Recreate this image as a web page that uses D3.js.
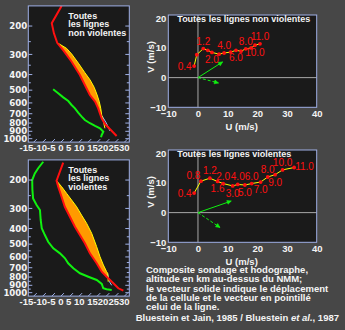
<!DOCTYPE html>
<html><head><meta charset="utf-8">
<script src="https://cdn.jsdelivr.net/npm/d3@7"></script>
<style>
html,body{margin:0;padding:0;background:#474747;}
svg{display:block;font-family:"Liberation Sans",Arial,sans-serif;}
text{white-space:pre;}
</style></head><body>
<svg id="fig" width="345" height="330"></svg>
<script>
// ---------- sounding profiles (pressure hPa, temperature °C) ----------
const pressureTicks = [200, 300, 400, 500, 600, 700, 800, 900, 1000];
const tempTicks = [-15, -10, -5, 0, 5, 10, 15, 20, 25, 30];

// non-severe squall lines
const nvTempP = [150, 192, 222, 254, 282, 302, 333, 403, 480, 536, 589, 648, 696, 747, 811, 874, 962];
const nvTempT = [-74.7, -70.6, -63.8, -56.8, -49.5, -44.9, -38.4, -26.5, -16.4, -10.0, -3.5, 1.9, 5.6, 9.3, 14.3, 20.0, 27.3];
const nvDewP = [494, 523, 554, 584, 618, 648, 690, 730, 766, 802, 834, 862, 905, 948, 980];
const nvDewT = [-33.4, -28.4, -23.4, -18.6, -14.6, -10.9, -6.7, -2.6, 1.0, 5.6, 9.9, 13.9, 17.6, 18.5, 19.4];
const nvParcelP = [254, 275, 298, 340, 390, 432, 480, 536, 589, 648, 713, 766, 862];
const nvParcelT = [-56.8, -48.6, -42.7, -33.9, -25.0, -18.2, -11.9, -6.0, -1.2, 3.3, 7.5, 11.1, 16.6];
const nvDryP = [720, 800, 896];
const nvDryT = [8.0, 14.5, 20.9];

// severe squall lines
const vTempP = [156, 202, 220, 254, 293, 338, 390, 439, 494, 570, 657, 741, 796, 874, 939, 972];
const vTempT = [-72.3, -66.0, -61.8, -54.4, -47.1, -38.8, -30.5, -23.2, -15.9, -7.6, 1.6, 9.0, 14.5, 21.8, 27.3, 31.4];
const vDewP = [154, 169, 182, 200, 230, 260, 286, 307, 354, 398, 439, 483, 530, 570, 612, 657, 706, 758, 796, 834, 883, 939, 953, 962];
const vDewT = [-83.8, -83.0, -82.0, -79.8, -74.3, -69.2, -63.6, -59.0, -53.1, -48.0, -42.5, -37.0, -30.6, -24.1, -18.6, -14.1, -8.5, -2.1, 4.4, 10.8, 15.8, 19.0, 21.4, 24.6];
const vParcelP = [202, 220, 242, 266, 293, 330, 371, 428, 518, 598, 673, 741, 758, 855];
const vParcelT = [-66.0, -59.9, -53.5, -47.1, -40.6, -33.3, -26.0, -17.7, -7.6, -0.2, 6.2, 11.7, 13.2, 18.1];
const vDryP = [760, 855, 900];
const vDryT = [13.2, 18.8, 22.0];

// ---------- hodographs (m/s), heights in km MSL ----------
const hodoHeights = [0.4, 0.8, 1.2, 1.6, 2.0, 3.0, 4.0, 5.0, 6.0, 7.0, 8.0, 9.0, 10.0, 11.0];
const nvU = [-1.3, -0.4, 1.8, 3.3, 4.7, 7.1, 8.8, 11.0, 12.8, 14.5, 16.1, 17.9, 19.2, 20.9];
const nvV = [3.9, 7.7, 9.8, 9.2, 8.5, 7.9, 8.3, 8.6, 9.2, 8.9, 9.7, 10.0, 10.9, 11.4];
const vU = [-1.3, 1.0, 4.0, 6.6, 8.5, 11.7, 13.4, 15.8, 18.1, 21.1, 23.5, 26.0, 28.5, 32.4];
const vV = [6.6, 10.6, 11.6, 10.5, 9.8, 9.0, 9.5, 9.3, 9.8, 10.3, 12.0, 12.8, 14.4, 15.2];
const nvLabeled = [0.4, 1.2, 2.0, 4.0, 6.0, 8.0, 10.0, 11.0];
const vLabeled = hodoHeights;
const nvCellMotion = [8.3, 5.3], nvLineMotion = [6.9, -1.8];
const vCellMotion = [11.2, 3.9], vLineMotion = [7.4, -5.0];
const uTicks = [-10, 0, 10, 20, 30, 40];
const vTicks = [-10, 0, 10, 20];

// ---------- styling ----------
const FRAME = "#9fb0e6", PLOT = "#1a1a1a", TXT = "#f4f4f4";
const RED = "#ff1010", GREEN = "#10f010", YELLOW = "#ffff00", ORANGE = "#ff9a00", PALE = "#9cc8ff";
const svg = d3.select("#fig");

const zip = (P, T) => P.map((p, i) => ({p, t: T[i]}));
function interpLogP(P, T, p) {
  for (let i = 0; i < P.length - 1; i++) {
    if (p >= P[i] && p <= P[i + 1]) {
      const f = (Math.log(p) - Math.log(P[i])) / (Math.log(P[i + 1]) - Math.log(P[i]));
      return T[i] + f * (T[i + 1] - T[i]);
    }
  }
  return null;
}

// ---------- skew-T panel ----------
function skewPanel(id, left, top, env, dew, parcel, dry, titleLines) {
  const W = 101, H = 136.2, skew = 1;
  const g = svg.append("g").attr("transform", `translate(${left},${top})`);
  const yP = d3.scaleLog().domain([150, 1050]).range([0, H]);
  const xT = d3.scaleLinear().domain([-18, 37.65]).range([0, W]);
  const X = (t, p) => xT(t) + skew * (H - yP(p));

  g.append("rect").attr("width", W).attr("height", H).attr("fill", PLOT);
  g.append("clipPath").attr("id", id).append("rect").attr("width", W).attr("height", H);
  const plot = g.append("g").attr("clip-path", `url(#${id})`);

  // positive area between lifted parcel and environment
  const pTop = d3.min(parcel.p), pBot = d3.max(parcel.p);
  const grid = d3.range(0, 201).map(i => Math.exp(Math.log(pTop) + i / 200 * (Math.log(pBot) - Math.log(pTop))));
  const band = grid.map(p => {
    const te = interpLogP(env.p, env.t, p), tp = interpLogP(parcel.p, parcel.t, p);
    return {p, te, tp: Math.max(tp, te)};
  }).filter(d => d.te !== null);
  plot.append("path").datum(band)
    .attr("d", d3.area().x0(d => X(d.te, d.p)).x1(d => X(d.tp, d.p)).y(d => yP(d.p)))
    .attr("fill", ORANGE);

  const line = d3.line().x(d => X(d.t, d.p)).y(d => yP(d.p));
  plot.append("path").datum(zip(dry.p, dry.t)).attr("d", line)
    .attr("fill", "none").attr("stroke", PALE).attr("stroke-width", 1);
  plot.append("path").datum(zip(parcel.p, parcel.t)).attr("d", line)
    .attr("fill", "none").attr("stroke", YELLOW).attr("stroke-width", 1);
  plot.append("path").datum(zip(env.p, env.t)).attr("d", line)
    .attr("fill", "none").attr("stroke", RED).attr("stroke-width", 2);
  plot.append("path").datum(zip(dew.p, dew.t)).attr("d", line)
    .attr("fill", "none").attr("stroke", GREEN).attr("stroke-width", 2);

  // frame
  g.append("rect").attr("width", W).attr("height", H).attr("fill", "none")
    .attr("stroke", FRAME).attr("stroke-width", 1);

  // pressure ticks on both sides
  d3.range(200, 1001, 50).forEach(p => {
    const len = p % 100 === 0 ? 4 : 2.5;
    g.append("line").attr("x1", 0).attr("x2", len).attr("y1", yP(p)).attr("y2", yP(p)).attr("stroke", FRAME);
    g.append("line").attr("x1", W).attr("x2", W - len).attr("y1", yP(p)).attr("y2", yP(p)).attr("stroke", FRAME);
  });
  pressureTicks.forEach(p => {
    g.append("text").attr("x", -1).attr("y", yP(p)).attr("dy", "0.36em")
      .attr("text-anchor", "end").attr("fill", TXT)
      .style("font", "bold 8.6px 'DejaVu Sans'").text(p);
  });

  // skewed isotherm marks along the base
  d3.range(-15, 36, 5).forEach(t => {
    g.append("line").attr("x1", xT(t)).attr("y1", H).attr("x2", xT(t) + 3).attr("y2", H - 3)
      .attr("stroke", FRAME).attr("stroke-width", 1);
  });
  const lab = g.append("text").attr("x", xT(7.5)).attr("y", H + 9.4)
    .attr("text-anchor", "middle").attr("fill", TXT)
    .style("font", "bold 9.5px 'Liberation Sans'");
  tempTicks.forEach((t, i) => lab.append("tspan").text((i > 0 && t >= 0 && t <= 15 ? " " : "") + t));

  titleLines.forEach((s, i) => {
    g.append("text").attr("x", 40).attr("y", 13.1 + i * 8.3)
      .attr("fill", TXT).style("font", "bold 9px 'Liberation Sans'").text(s);
  });
}

skewPanel("clipA", 28.3, 5.9,
  {p: nvTempP, t: nvTempT}, {p: nvDewP, t: nvDewT}, {p: nvParcelP, t: nvParcelT}, {p: nvDryP, t: nvDryT},
  ["Toutes", "les lignes", "non violentes"]);
skewPanel("clipB", 28.3, 159.9,
  {p: vTempP, t: vTempT}, {p: vDewP, t: vDewT}, {p: vParcelP, t: vParcelT}, {p: vDryP, t: vDryT},
  ["Toutes", "les lignes", "violentes"]);

// ---------- hodograph panel ----------
function hodoPanel(top, U, V, labeled, sides, cell, lineMv, title) {
  const x0 = 168.3, x1 = 316.7, y0 = top, y1 = top + 92.3;
  const xs = d3.scaleLinear().domain([-10, 40]).range([x0, x1]);
  const ys = d3.scaleLinear().domain([-10, 21.1]).range([y1, y0]);
  const g = svg.append("g");
  g.append("rect").attr("x", x0).attr("y", y0).attr("width", x1 - x0).attr("height", y1 - y0).attr("fill", PLOT);
  g.append("line").attr("x1", xs(0)).attr("x2", xs(0)).attr("y1", y0).attr("y2", y1).attr("stroke", "#a8a8a8");
  g.append("line").attr("x1", x0).attr("x2", x1).attr("y1", ys(0)).attr("y2", ys(0)).attr("stroke", "#a8a8a8");
  g.append("rect").attr("x", x0).attr("y", y0).attr("width", x1 - x0).attr("height", y1 - y0)
    .attr("fill", "none").attr("stroke", FRAME);

  const ax = g.append("g").attr("transform", `translate(0,${y1})`)
    .call(d3.axisBottom(xs).tickValues(uTicks).tickSize(0).tickPadding(3));
  const ay = g.append("g").attr("transform", `translate(${x0},0)`)
    .call(d3.axisLeft(ys).tickValues(vTicks).tickSize(0).tickPadding(2));
  [ax, ay].forEach(a => {
    a.select(".domain").remove();
    a.selectAll("text").attr("fill", TXT).style("font", "bold 9.5px 'Liberation Sans'");
  });

  g.append("text").attr("x", 177.3).attr("y", y0 + 7.2)
    .attr("fill", TXT).style("font", "bold 9px 'Liberation Sans'").text(title);

  // motion vectors
  const arrow = (vec, dashed) => {
    const ax0 = xs(0), ay0 = ys(0), ax1 = xs(vec[0]), ay1 = ys(vec[1]);
    g.append("line").attr("x1", ax0).attr("y1", ay0).attr("x2", ax1).attr("y2", ay1)
      .attr("stroke", GREEN).attr("stroke-width", 1)
      .attr("stroke-dasharray", dashed ? "3,2" : null);
    const ang = Math.atan2(ay1 - ay0, ax1 - ax0), L = 4.5, s = 0.45;
    const pts = [[ax1, ay1],
      [ax1 - L * Math.cos(ang - s), ay1 - L * Math.sin(ang - s)],
      [ax1 - L * Math.cos(ang + s), ay1 - L * Math.sin(ang + s)]];
    g.append("path").attr("d", d3.line()(pts) + "Z").attr("fill", GREEN).attr("stroke", GREEN).attr("stroke-width", 0.6);
  };
  arrow(cell, false);
  arrow(lineMv, true);

  const pts = U.map((u, i) => ({u, v: V[i], h: hodoHeights[i]}));
  g.append("path").datum(pts).attr("d", d3.line().x(d => xs(d.u)).y(d => ys(d.v)))
    .attr("fill", "none").attr("stroke", YELLOW).attr("stroke-width", 1);
  g.selectAll(null).data(pts).join("circle")
    .attr("cx", d => xs(d.u)).attr("cy", d => ys(d.v)).attr("r", 1.9).attr("fill", RED);

  const fmt = d3.format(".1f");
  pts.filter(d => labeled.includes(d.h)).forEach(d => {
    const side = sides[fmt(d.h)] || "above";
    let x = xs(d.u), y = ys(d.v), anchor = "middle";
    if (side === "left") { x -= 2.5; y += 3.5; anchor = "end"; }
    else if (side === "leftup") { x -= 0.5; y -= 2; anchor = "end"; }
    else if (side === "right") { x += 1; y += 2; anchor = "start"; }
    else if (side === "below") { y += 11; }
    else { y -= 4; }
    g.append("text").attr("x", x).attr("y", y).attr("text-anchor", anchor)
      .attr("fill", RED).style("font", "10px 'Liberation Sans'").text(fmt(d.h));
  });

  g.append("text").attr("x", 241.7).attr("y", y1 + 22.3).attr("text-anchor", "middle")
    .attr("fill", TXT).style("font", "bold 9.5px 'Liberation Sans'").text("U (m/s)");
  g.append("text").attr("transform", `translate(153.5,${y0 + 42}) rotate(-90)`).attr("text-anchor", "middle")
    .attr("fill", TXT).style("font", "bold 9.5px 'Liberation Sans'").text("V (m/s)");
}

hodoPanel(15, nvU, nvV, nvLabeled,
  {"0.4": "left", "1.2": "above", "2.0": "below", "4.0": "above", "6.0": "below", "8.0": "above", "10.0": "below", "11.0": "above"},
  nvCellMotion, nvLineMotion, "Toutes les lignes non violentes");
hodoPanel(150, vU, vV, vLabeled,
  {"0.4": "left", "0.8": "leftup", "1.2": "above", "1.6": "below", "2.0": "above", "3.0": "below", "4.0": "above",
   "5.0": "below", "6.0": "above", "7.0": "below", "8.0": "above", "9.0": "below", "10.0": "above", "11.0": "right"},
  vCellMotion, vLineMotion, "Toutes les lignes violentes");

// ---------- caption ----------
const caption = [
  "Composite sondage et hodographe,",
  "altitude en km au-dessus du NMM;",
  "le vecteur solide indique le déplacement",
  "de la cellule et le vecteur en pointillé",
  "celui de la ligne."
];
caption.forEach((s, i) => {
  svg.append("text").attr("x", 146).attr("y", 272.8 + i * 9.4)
    .attr("fill", TXT).style("font", "bold 9.5px 'Liberation Sans'").text(s);
});
const credit = svg.append("text").attr("x", 339).attr("y", 321).attr("text-anchor", "end")
  .attr("fill", TXT).style("font", "bold 9.5px 'Liberation Sans'");
credit.append("tspan").text("Bluestein et Jain, 1985 / Bluestein ");
credit.append("tspan").style("font-style", "italic").text("et al.");
credit.append("tspan").text(", 1987");
</script>
</body></html>
